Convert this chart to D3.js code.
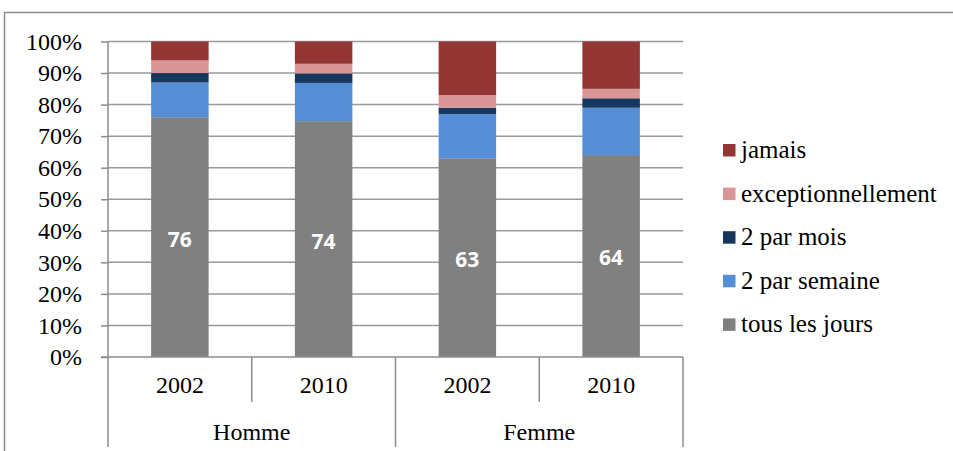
<!DOCTYPE html>
<html>
<head>
<meta charset="utf-8">
<script src="https://cdn.jsdelivr.net/npm/d3@7/dist/d3.min.js"></script>
<style>
  html, body { margin: 0; padding: 0; background: #fff; }
  svg { display: block; }
  .serif { font-family: "Liberation Serif", Tinos, "Times New Roman", Times, serif; font-size: 24px; fill: #000; }
  .legend-text { font-size: 25px; }
  .val { font-family: "Open Sans", "Liberation Sans", sans-serif; font-weight: bold; font-size: 21px; fill: #fff; }
</style>
</head>
<body>
<svg id="chart" width="953" height="451"></svg>
<script>
// Fréquence par sexe et par année (valeurs en %)
const groups = ["Homme", "Femme"];
const years = ["2002", "2010"];
const seriesNames = ["tous les jours", "2 par semaine", "2 par mois", "exceptionnellement", "jamais"];
const seriesColors = ["#808080", "#558ED5", "#17375E", "#D99694", "#943634"];
const tousLesJours = [76, 74, 63, 64];
const deuxParSemaine = [11, 12, 14, 15];
const deuxParMois = [3, 3, 2, 3];
const exceptionnellement = [4, 3, 4, 3];
const jamais = [6, 7, 17, 15];
const yTicks = [0, 0.1, 0.2, 0.3, 0.4, 0.5, 0.6, 0.7, 0.8, 0.9, 1];

const seriesValues = [tousLesJours, deuxParSemaine, deuxParMois, exceptionnellement, jamais];

// one row per (groupe, année)
const rows = [];
groups.forEach((g, gi) => years.forEach((yr, yi) => {
  const i = gi * years.length + yi;
  const r = { key: g + "|" + yr, group: g, year: yr };
  seriesNames.forEach((s, si) => { r[s] = seriesValues[si][i]; });
  rows.push(r);
}));

const svg = d3.select("#chart");

// outer frame
svg.append("path")
  .attr("d", "M4.5,451 V12.5 H953")
  .attr("fill", "none").attr("stroke", "#8c8c8c").attr("stroke-width", 1.5);

const plotLeft = 108, plotRight = 683, plotTop = 41.5, plotBottom = 357, catBottom = 402, grpBottom = 447;

const x = d3.scaleBand().domain(rows.map(r => r.key)).range([plotLeft, plotRight]).paddingInner(0).paddingOuter(0);
const xg = d3.scaleBand().domain(groups).range([plotLeft, plotRight]);
const y = d3.scaleLinear().domain([0, 1]).range([plotBottom, plotTop]);

const stack = d3.stack().keys(seriesNames).offset(d3.stackOffsetExpand);
const stacked = stack(rows);

// gridlines
svg.append("g").selectAll("line").data(yTicks.filter(t => t > 0)).join("line")
  .attr("x1", plotLeft).attr("x2", plotRight)
  .attr("y1", d => y(d)).attr("y2", d => y(d))
  .attr("stroke", "#999999").attr("stroke-width", 1.5);

// y axis
const yAxis = d3.axisLeft(y).tickValues(yTicks).tickFormat(d3.format(".0%")).tickSize(7).tickPadding(19);
const ya = svg.append("g").attr("transform", `translate(${plotLeft},0)`).call(yAxis);
ya.attr("font-family", null).attr("font-size", null);
ya.select(".domain").remove();
ya.selectAll(".tick line").attr("stroke", "#8c8c8c").attr("stroke-width", 1.5);
ya.selectAll(".tick text").attr("class", "serif").attr("fill", null);

// bars
const barW = x.bandwidth() * 0.4;
svg.append("g").selectAll("g").data(stacked).join("g")
  .attr("fill", (d, i) => seriesColors[i])
  .selectAll("rect").data(d => d).join("rect")
  .attr("x", d => x(d.data.key) + (x.bandwidth() - barW) / 2)
  .attr("width", barW)
  .attr("y", d => y(d[1]))
  .attr("height", d => y(d[0]) - y(d[1]));

// value labels on the first series
svg.append("g").selectAll("text").data(stacked[0]).join("text")
  .attr("class", "val")
  .attr("x", d => x(d.data.key) + x.bandwidth() / 2)
  .attr("y", d => (y(d[0]) + y(d[1])) / 2)
  .attr("dy", "0.45em")
  .attr("text-anchor", "middle")
  .text(d => d.data[seriesNames[0]]);

// axes lines
const axisG = svg.append("g").attr("stroke", "#8c8c8c").attr("stroke-width", 1.5);
axisG.append("line").attr("x1", plotLeft).attr("x2", plotLeft).attr("y1", plotTop).attr("y2", grpBottom);
axisG.append("line").attr("x1", plotLeft - 7).attr("x2", plotRight).attr("y1", plotBottom).attr("y2", plotBottom);
// separators between years
axisG.selectAll(".sep").data(rows.filter((r, i) => i % years.length !== 0)).join("line")
  .attr("x1", d => x(d.key)).attr("x2", d => x(d.key))
  .attr("y1", plotBottom).attr("y2", catBottom);
// separators between groups
axisG.selectAll(".gsep").data(groups).join("line")
  .attr("x1", d => xg(d) + xg.bandwidth()).attr("x2", d => xg(d) + xg.bandwidth())
  .attr("y1", plotBottom).attr("y2", grpBottom);

// category labels
svg.append("g").selectAll("text").data(rows).join("text")
  .attr("class", "serif")
  .attr("x", d => x(d.key) + x.bandwidth() / 2)
  .attr("y", 385).attr("dy", "0.35em")
  .attr("text-anchor", "middle")
  .text(d => d.year);
svg.append("g").selectAll("text").data(groups).join("text")
  .attr("class", "serif")
  .attr("x", d => xg(d) + xg.bandwidth() / 2)
  .attr("y", 432).attr("dy", "0.35em")
  .attr("text-anchor", "middle")
  .text(d => d);

// legend (top series first)
const legendItems = seriesNames.map((s, i) => ({ name: s, color: seriesColors[i] })).reverse();
const lg = svg.append("g").selectAll("g").data(legendItems).join("g")
  .attr("transform", (d, i) => `translate(723,${150 + i * 43.6})`);
lg.append("rect").attr("x", 0).attr("y", -6).attr("width", 12.5).attr("height", 12.5).attr("fill", d => d.color);
lg.append("text").attr("class", "serif legend-text").attr("x", 18).attr("y", 0).attr("dy", "0.32em")
  .text(d => d.name);
</script>
</body>
</html>
